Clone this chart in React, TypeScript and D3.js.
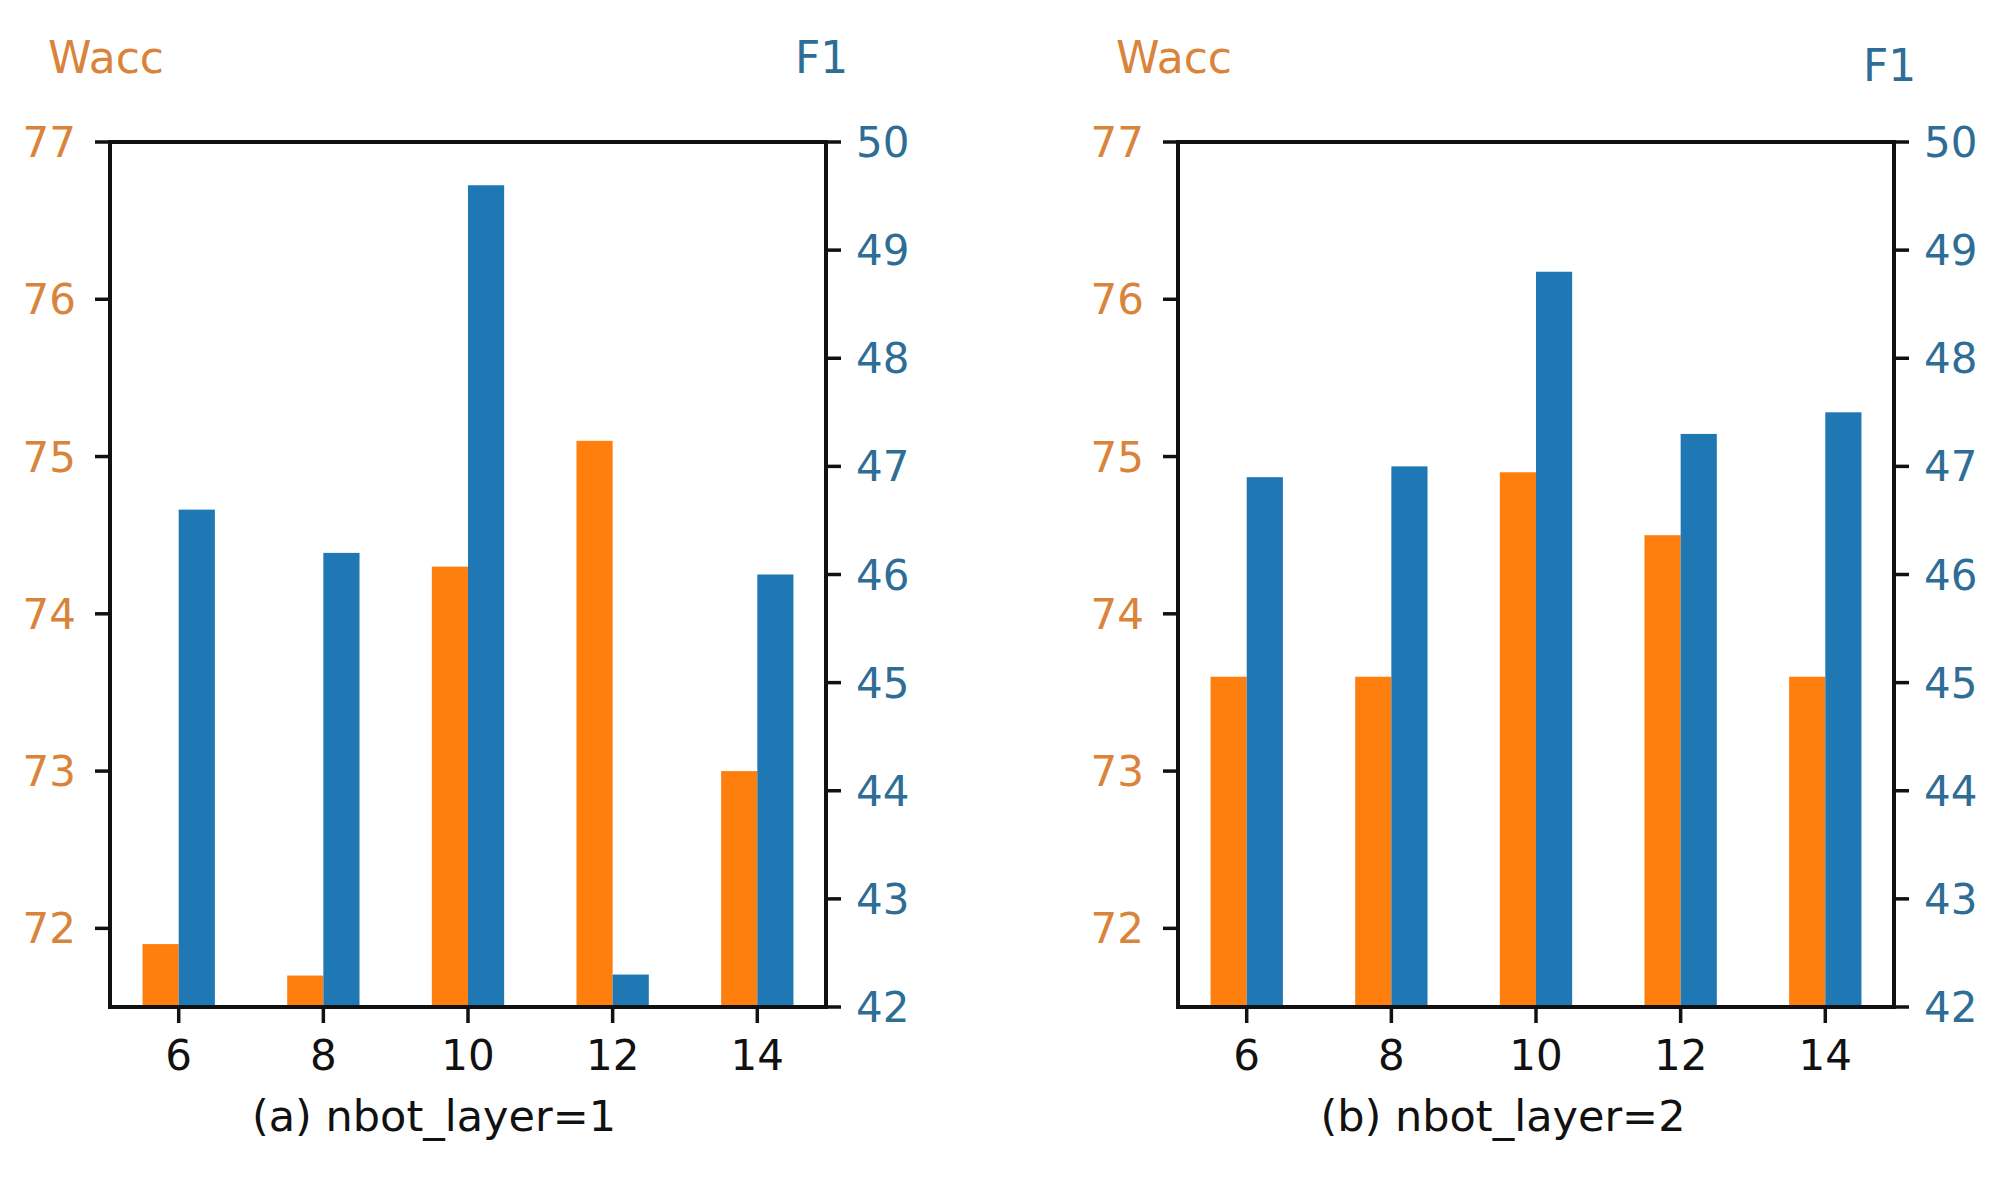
import { useEffect, useRef } from 'react';
import * as d3 from 'd3';

// x categories (nbot_layer sweep) and the two series per panel
const layers = [6, 8, 10, 12, 14];
const waccA = [71.9, 71.7, 74.3, 75.1, 73.0];
const f1A = [46.6, 46.2, 49.6, 42.3, 46.0];
const waccB = [73.6, 73.6, 74.9, 74.5, 73.6];
const f1B = [46.9, 47.0, 48.8, 47.3, 47.5];

const waccTicks = [72, 73, 74, 75, 76, 77];
const f1Ticks = [42, 43, 44, 45, 46, 47, 48, 49, 50];
const captions = ['(a) nbot_layer=1', '(b) nbot_layer=2'];

const ORANGE = '#ff7f0e';
const BLUE = '#1f77b4';
const ORANGE_TXT = '#d9843a';
const BLUE_TXT = '#2e6e96';
const FONT = '"DejaVu Sans", sans-serif';

export default function App() {
  const svgRef = useRef<SVGSVGElement>(null);

  useEffect(() => {
    if (!svgRef.current) return;
    const svg = d3.select(svgRef.current);
    svg.selectAll('*').remove();

    const top = 142;
    const bottom = 1007;
    const panels = [
      { left: 110, right: 826, wacc: waccA, f1: f1A, caption: captions[0], capX: 434, f1TitleY: 73 },
      { left: 1178, right: 1894, wacc: waccB, f1: f1B, caption: captions[1], capX: 1503, f1TitleY: 81 },
    ];

    panels.forEach(p => {
      const g = svg.append('g');

      const x = d3.scaleLinear().domain([5.05, 14.95]).range([p.left, p.right]);
      const yL = d3.scaleLinear().domain([71.5, 77]).range([bottom, top]);
      const yR = d3.scaleLinear().domain([42, 50]).range([bottom, top]);
      const bw = x(6.5) - x(6);

      // bars (clipped at the lower axis limit, like matplotlib)
      g.selectAll('.wacc')
        .data(p.wacc)
        .enter()
        .append('rect')
        .attr('x', (_, i) => x(layers[i] - 0.5))
        .attr('y', d => yL(d))
        .attr('width', bw)
        .attr('height', d => bottom - yL(d))
        .attr('fill', ORANGE);

      g.selectAll('.f1')
        .data(p.f1)
        .enter()
        .append('rect')
        .attr('x', (_, i) => x(layers[i]))
        .attr('y', d => yR(d))
        .attr('width', bw)
        .attr('height', d => bottom - yR(d))
        .attr('fill', BLUE);

      // frame
      g.append('rect')
        .attr('x', p.left)
        .attr('y', top)
        .attr('width', p.right - p.left)
        .attr('height', bottom - top)
        .attr('fill', 'none')
        .attr('stroke', '#111')
        .attr('stroke-width', 4);

      // left ticks (Wacc)
      waccTicks.forEach(t => {
        g.append('line')
          .attr('x1', p.left - 15).attr('x2', p.left)
          .attr('y1', yL(t)).attr('y2', yL(t))
          .attr('stroke', '#111').attr('stroke-width', 3.5);
        g.append('text')
          .attr('x', p.left - 34)
          .attr('y', yL(t) + 15)
          .attr('text-anchor', 'end')
          .attr('fill', ORANGE_TXT)
          .attr('font-family', FONT)
          .attr('font-size', 42)
          .text(t);
      });

      // right ticks (F1)
      f1Ticks.forEach(t => {
        g.append('line')
          .attr('x1', p.right).attr('x2', p.right + 15)
          .attr('y1', yR(t)).attr('y2', yR(t))
          .attr('stroke', '#111').attr('stroke-width', 3.5);
        g.append('text')
          .attr('x', p.right + 30)
          .attr('y', yR(t) + 15)
          .attr('fill', BLUE_TXT)
          .attr('font-family', FONT)
          .attr('font-size', 42)
          .text(t);
      });

      // bottom ticks
      layers.forEach(l => {
        g.append('line')
          .attr('x1', x(l)).attr('x2', x(l))
          .attr('y1', bottom).attr('y2', bottom + 16)
          .attr('stroke', '#111').attr('stroke-width', 3.5);
        g.append('text')
          .attr('x', x(l))
          .attr('y', 1070)
          .attr('text-anchor', 'middle')
          .attr('fill', '#111')
          .attr('font-family', FONT)
          .attr('font-size', 42)
          .text(l);
      });

      // axis titles on top
      g.append('text')
        .attr('x', p.left - 62)
        .attr('y', 73)
        .attr('fill', ORANGE_TXT)
        .attr('font-family', FONT)
        .attr('font-size', 44)
        .text('Wacc');

      g.append('text')
        .attr('x', p.right - 31)
        .attr('y', p.f1TitleY)
        .attr('fill', BLUE_TXT)
        .attr('font-family', FONT)
        .attr('font-size', 44)
        .text('F1');

      // caption
      g.append('text')
        .attr('x', p.capX)
        .attr('y', 1131)
        .attr('text-anchor', 'middle')
        .attr('fill', '#111')
        .attr('font-family', FONT)
        .attr('font-size', 43)
        .text(p.caption);
    });
  }, []);

  return (
    <svg
      ref={svgRef}
      width={2009}
      height={1192}
      style={{ position: 'absolute', left: 0, top: 0, background: 'white' }}
    />
  );
}
